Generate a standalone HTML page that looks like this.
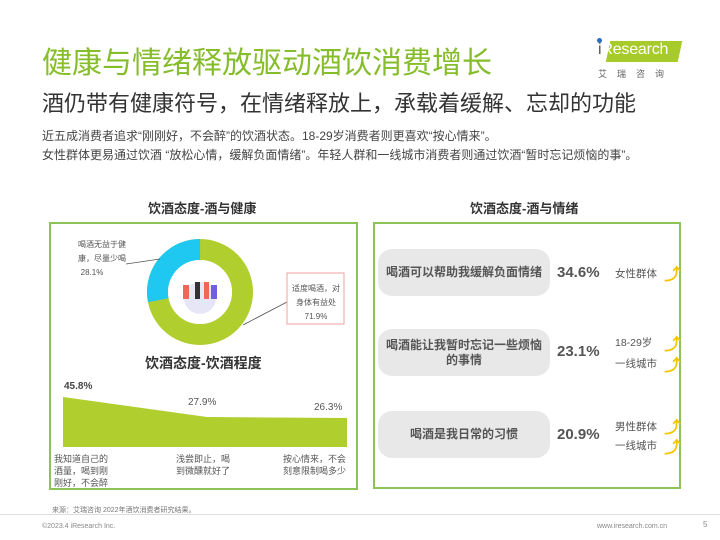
<!DOCTYPE html>
<html><head><meta charset="utf-8"><style>
body{margin:0;width:720px;height:540px;background:#fff;position:relative;overflow:hidden;font-family:"Liberation Sans","Noto Sans CJK SC",sans-serif;color:#444}
.a{position:absolute;white-space:nowrap}
.box{position:absolute;border:2px solid #8cc256;box-sizing:border-box}
.pill{position:absolute;left:378px;width:172px;height:47px;background:#e8e8e8;border-radius:14px;font-size:12px;font-weight:bold;color:#555;display:flex;align-items:center;justify-content:center;text-align:center;line-height:15px}
.pct{position:absolute;left:557px;font-size:15px;font-weight:bold;color:#555}
.tag{position:absolute;left:615px;font-size:10.5px;color:#555}
.arr{position:absolute;left:664px;color:#f5c400;font-size:17px;font-weight:bold}
</style></head><body>
<div class="a" style="left:42px;top:38px;font-size:30px;color:#86bd2b">健康与情绪释放驱动酒饮消费增长</div>
<div class="a" style="left:42px;top:86px;font-size:22px;color:#333">酒仍带有健康符号，在情绪释放上，承载着缓解、忘却的功能</div>
<div class="a" style="left:42px;top:127px;font-size:12px;color:#444">近五成消费者追求“刚刚好，不会醉”的饮酒状态。18-29岁消费者则更喜欢“按心情来”。</div>
<div class="a" style="left:42px;top:146px;font-size:12px;color:#444">女性群体更易通过饮酒 “放松心情，缓解负面情绪”。年轻人群和一线城市消费者则通过饮酒“暂时忘记烦恼的事”。</div>
<div class="a" style="left:608px;top:41px;width:72px;height:21px;background:#a6cb2a;transform:skewX(-12deg)"></div>
<div class="a" style="left:598px;top:41px;font-size:16px;color:#fff;letter-spacing:-0.2px"><span style="color:#555">i</span>Research</div>
<div class="a" style="left:597px;top:38px;width:5px;height:5px;border-radius:50%;background:#2a6fc0"></div>
<div class="a" style="left:598px;top:67px;font-size:9px;color:#666;letter-spacing:10px">艾瑞咨询</div>

<div class="a" style="left:148px;top:198px;font-size:13px;font-weight:bold;color:#333">饮酒态度-酒与健康</div>
<div class="a" style="left:470px;top:198px;font-size:13px;font-weight:bold;color:#333">饮酒态度-酒与情绪</div>
<div class="box" style="left:49px;top:222px;width:309px;height:268px"></div>
<div class="box" style="left:373px;top:222px;width:308px;height:267px"></div>

<svg class="a" style="left:0;top:0" width="720" height="540">
<circle cx="200" cy="292" r="42.5" fill="none" stroke="#b0cf2e" stroke-width="21"/>
<circle cx="200" cy="292" r="42.5" fill="none" stroke="#1ec8f0" stroke-width="21" stroke-dasharray="75.04 300" transform="rotate(-191.2 200 292)"/>
<circle cx="200" cy="292" r="32" fill="#fff"/>
<circle cx="200" cy="298" r="16" fill="#e6e6f6"/>
<rect x="183" y="285" width="6" height="14" fill="#f0675a"/><rect x="211" y="285" width="6" height="14" fill="#6f5fe0"/><rect x="195" y="282" width="5" height="17" fill="#333"/><rect x="204" y="282" width="5" height="17" fill="#f0675a"/>
<line x1="126" y1="264" x2="160" y2="259" stroke="#555" stroke-width="0.8"/>
<line x1="243" y1="325" x2="287" y2="302" stroke="#555" stroke-width="0.8"/>
<rect x="287" y="273" width="57" height="51" fill="#fff" stroke="#f0a0a0" stroke-width="1"/>
<polygon points="63,397 207,417 347,418 347,447 63,447" fill="#b0cf2e"/>
</svg>
<div class="a" style="left:78px;top:238px;font-size:8px;color:#555;line-height:14px;text-align:center">喝酒无益于健<br>康，尽量少喝<br><span style="margin-left:-20px">28.1%</span></div>
<div class="a" style="left:290px;top:282px;width:52px;font-size:8px;color:#555;line-height:14px;text-align:center;white-space:normal">适度喝酒，对身体有益处<br>71.9%</div>
<div class="a" style="left:145px;top:353px;font-size:14px;font-weight:bold;color:#333">饮酒态度-饮酒程度</div>
<div class="a" style="left:64px;top:381px;font-size:10px;font-weight:bold;color:#444">45.8%</div>
<div class="a" style="left:188px;top:397px;font-size:10px;color:#555">27.9%</div>
<div class="a" style="left:314px;top:402px;font-size:10px;color:#555">26.3%</div>
<div class="a" style="left:54px;top:453px;font-size:9px;color:#555;line-height:12px">我知道自己的<br>酒量，喝到刚<br>刚好，不会醉</div>
<div class="a" style="left:176px;top:453px;font-size:9px;color:#555;line-height:12px">浅尝即止，喝<br>到微醺就好了</div>
<div class="a" style="left:283px;top:453px;font-size:9px;color:#555;line-height:12px">按心情来，不会<br>刻意限制喝多少</div>

<div class="pill" style="top:249px">喝酒可以帮助我缓解负面情绪</div>
<div class="pill" style="top:329px">喝酒能让我暂时忘记一些烦恼<br>的事情</div>
<div class="pill" style="top:411px">喝酒是我日常的习惯</div>
<div class="pct" style="top:264px">34.6%</div>
<div class="pct" style="top:343px">23.1%</div>
<div class="pct" style="top:426px">20.9%</div>
<div class="tag" style="top:266px">女性群体</div>
<div class="tag" style="top:335px">18-29岁</div>
<div class="tag" style="top:356px">一线城市</div>
<div class="tag" style="top:419px">男性群体</div>
<div class="tag" style="top:438px">一线城市</div>
<div class="arr" style="top:260px">⤴</div>
<div class="arr" style="top:330px">⤴</div>
<div class="arr" style="top:351px">⤴</div>
<div class="arr" style="top:413px">⤴</div>
<div class="arr" style="top:433px">⤴</div>

<div class="a" style="left:52px;top:505px;font-size:7px;color:#777">来源：艾瑞咨询 2022年酒饮消费者研究结果。</div>
<div class="a" style="left:0;top:514px;width:720px;border-top:1px solid #ddd"></div>
<div class="a" style="left:42px;top:523px;font-size:7px;color:#888">©2023.4 iResearch Inc.</div>
<div class="a" style="left:597px;top:523px;font-size:7px;color:#888">www.iresearch.com.cn</div>
<div class="a" style="left:703px;top:520px;font-size:8px;color:#888">5</div>
</body></html>
